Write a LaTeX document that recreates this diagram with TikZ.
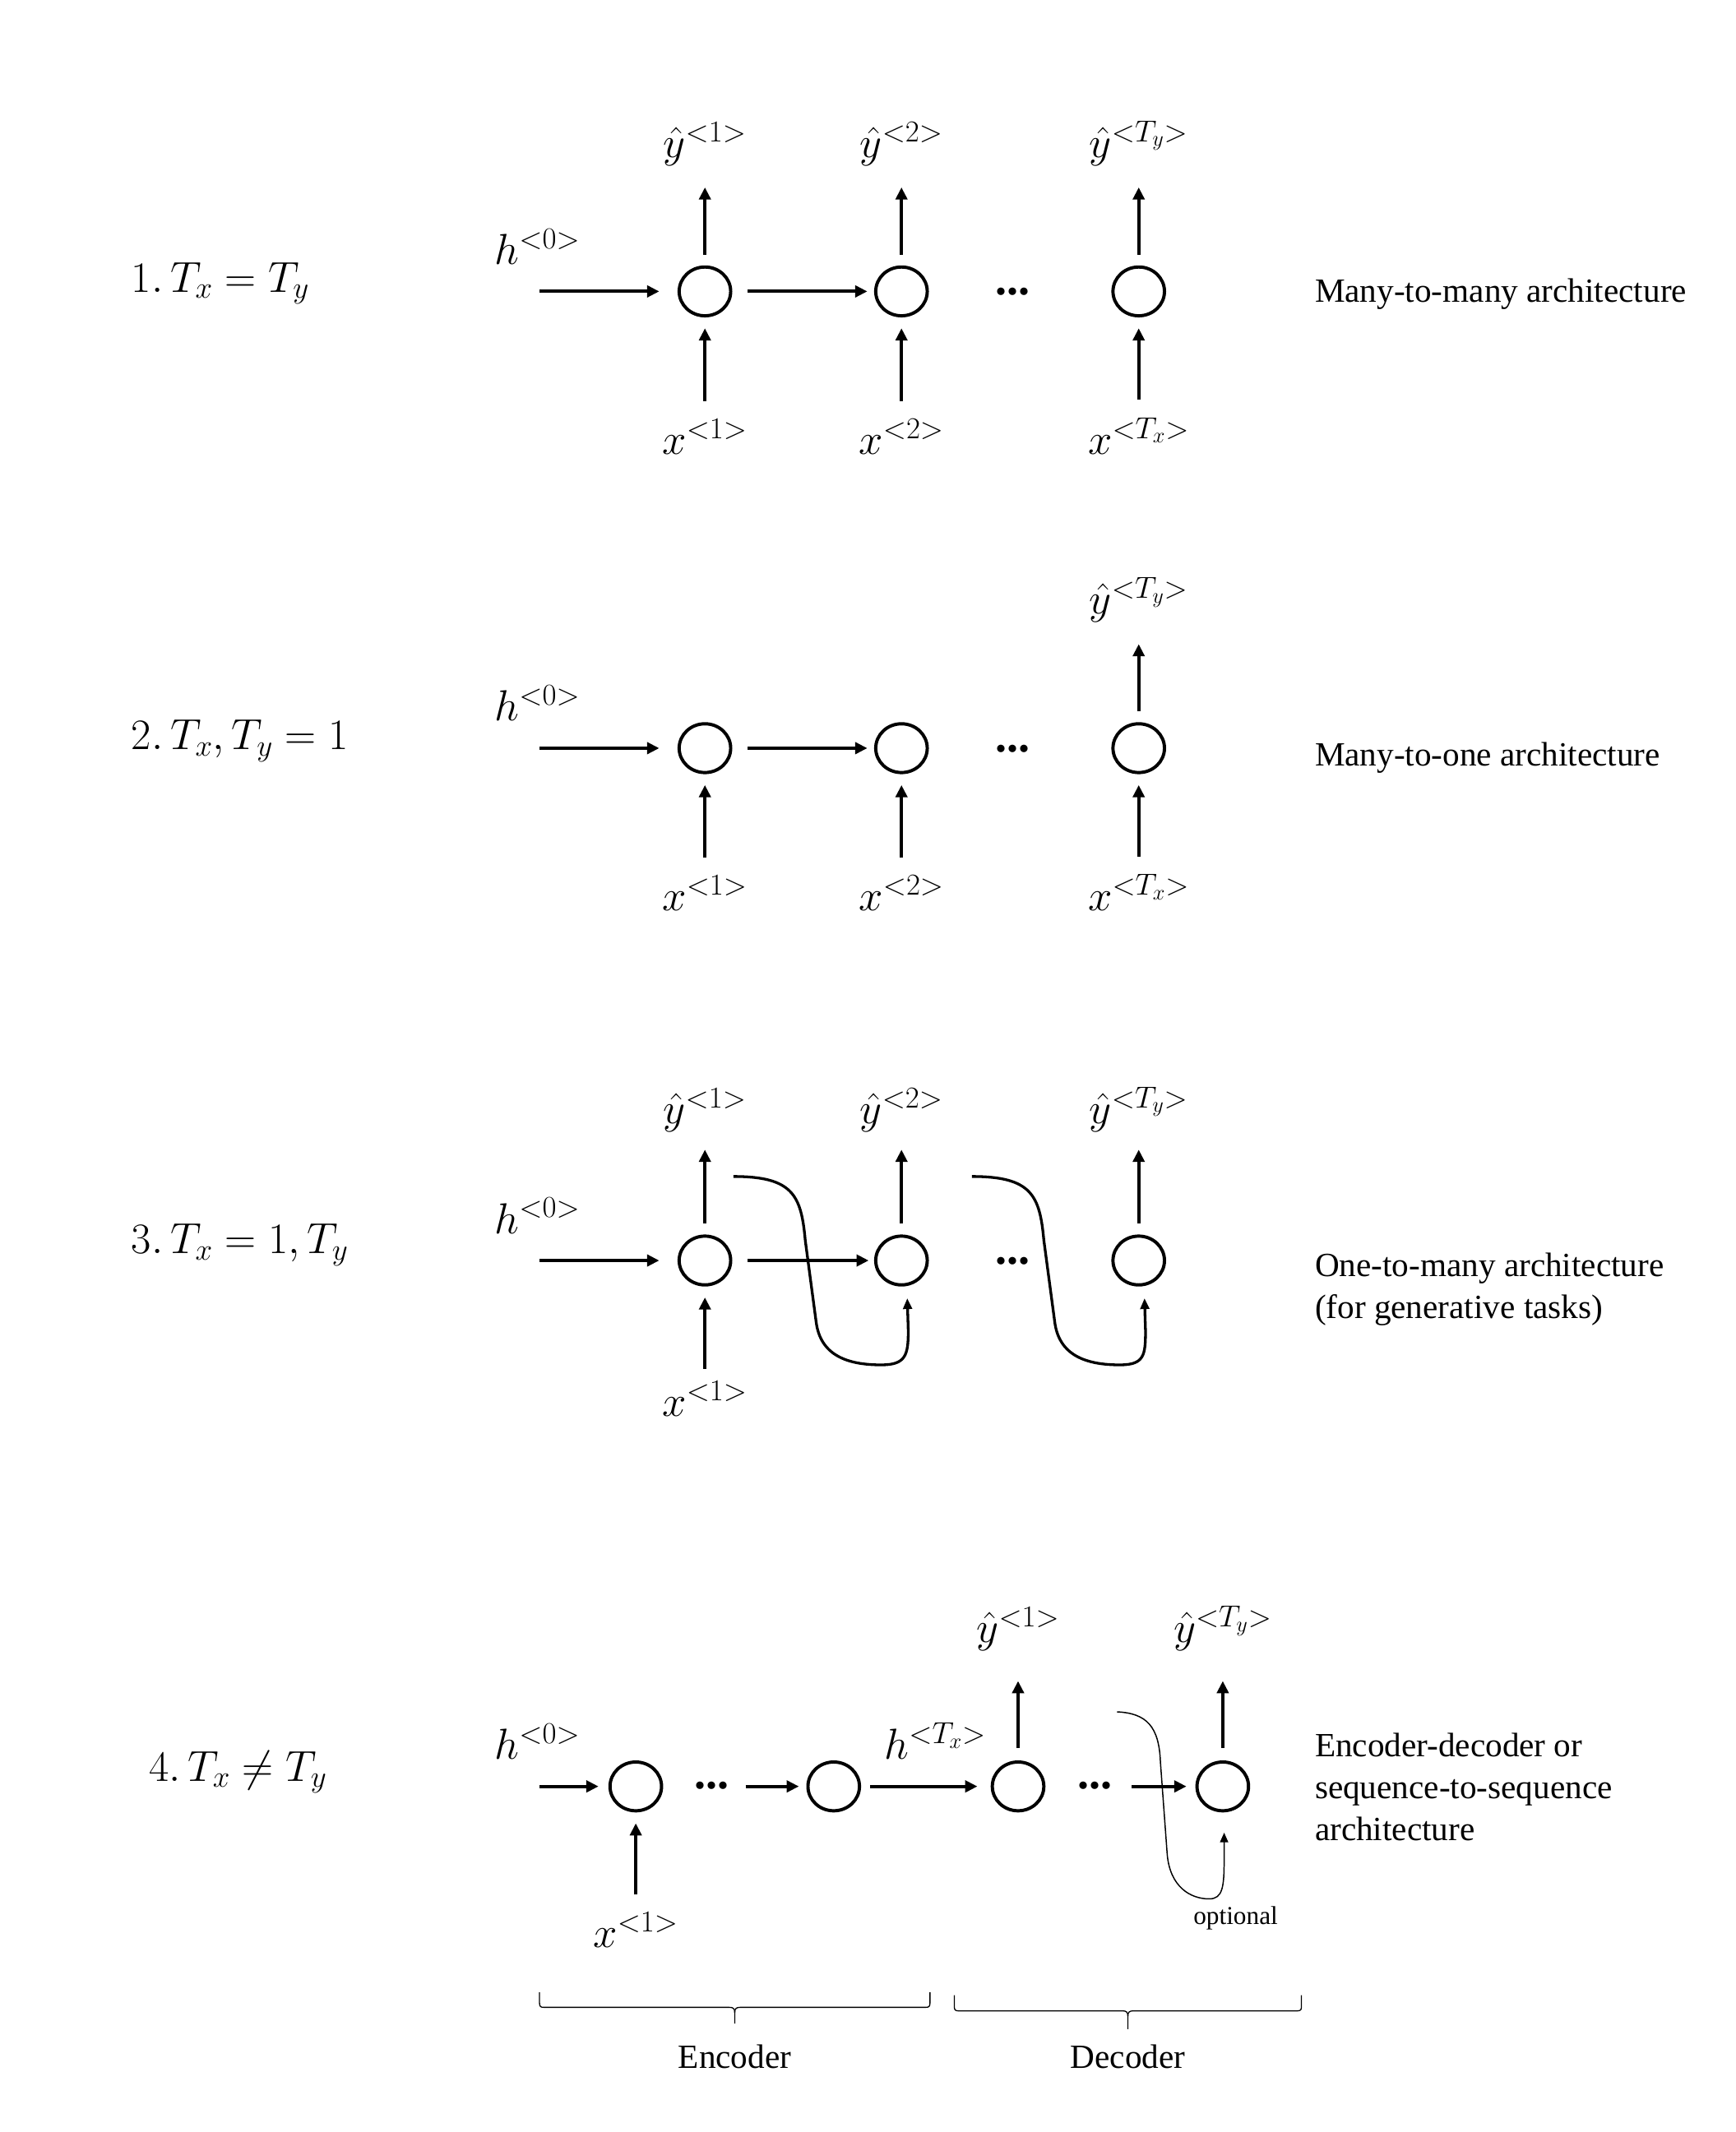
\documentclass[tikz,border=0pt]{standalone}
\usepackage{fix-cm}
\usepackage{amsmath}
\usepackage{fontspec}
\setmainfont{Liberation Serif}
\usetikzlibrary{shapes.geometric}
\usetikzlibrary{arrows.meta}

\tikzset{
  cell/.style={ellipse,draw,line width=2.4pt,minimum width=38pt,minimum height=36pt,inner sep=0pt},
  lab/.style={anchor=base,inner sep=0pt,outer sep=0pt,font=\fontsize{32}{38}\selectfont},
  rowlab/.style={anchor=base west,inner sep=0pt,outer sep=0pt,font=\fontsize{32}{38}\selectfont},
  txt/.style={anchor=base west,align=left,inner sep=0pt,outer sep=0pt,font=\fontsize{25}{31}\selectfont},
  word/.style={anchor=base,inner sep=0pt,outer sep=0pt,font=\fontsize{25}{31}\selectfont},
  note/.style={anchor=base,inner sep=0pt,outer sep=0pt,font=\fontsize{19}{23}\selectfont},
  ell/.style={anchor=base,inner sep=0pt,outer sep=0pt,font=\fontsize{34}{40}\selectfont\bfseries},
  arr/.style={line width=2.4pt,-{Triangle[length=9pt,width=8.5pt]}},
  toy/.style={arr,shorten <=8pt,shorten >=16pt},
  fromx/.style={arr,shorten <=13pt,shorten >=8pt},
  feed/.style={line width=2pt,-{Triangle[length=8pt,width=6.5pt]},shorten >=9pt},
  opt/.style={line width=0.9pt,-{Triangle[length=7pt,width=6pt]},shorten >=15pt},
  grp/.style={line width=0.8pt,line join=round}
}

\begin{document}
\begin{tikzpicture}[x=1pt,y=-1pt]
\fill[white] (0,0) rectangle (1280,1573);
\useasboundingbox (0,0) rectangle (1280,1573);

\node[rowlab] (t1) at (97,215.4) {$1.\,T_x = T_y$};
\node[lab] (h10) at (396.5,195) {$h^{<0>}$};
\coordinate (h1in) at (398,215);
\node[cell] (c11) at (520,215) {};
\node[cell] (c12) at (665,215) {};
\node[cell] (c13) at (840,215) {};
\node[ell] (d1) at (747,217.5) {...};
\node[lab] (y11) at (520,116) {$\hat{y}^{<1>}$};
\node[lab] (y12) at (665,116) {$\hat{y}^{<2>}$};
\node[lab] (y13) at (840,116) {$\hat{y}^{<T_y>}$};
\node[lab] (x11) at (520,335) {$x^{<1>}$};
\node[lab] (x12) at (665,335) {$x^{<2>}$};
\node[lab] (x13) at (840,335) {$x^{<T_x>}$};
\node[txt] (a1) at (970,223) {Many-to-many architecture};
\draw[arr,shorten >=13.5pt] (h1in) -- (c11);
\draw[arr,shorten <=11.5pt,shorten >=5pt] (c11) -- (c12);
\draw[toy] (c11) -- (y11);
\draw[toy] (c12) -- (y12);
\draw[toy] (c13) -- (y13);
\draw[fromx] (x11) -- (c11);
\draw[fromx] (x12) -- (c12);
\draw[fromx] (x13) -- (c13);

\node[rowlab] (t2) at (97,553) {$2.\,T_x, T_y = 1$};
\node[lab] (h20) at (396.5,532) {$h^{<0>}$};
\coordinate (h2in) at (398,552);
\node[cell] (c21) at (520,552) {};
\node[cell] (c22) at (665,552) {};
\node[cell] (c23) at (840,552) {};
\node[ell] (d2) at (747,554.5) {...};
\node[lab] (y23) at (840,453) {$\hat{y}^{<T_y>}$};
\node[lab] (x21) at (520,672) {$x^{<1>}$};
\node[lab] (x22) at (665,672) {$x^{<2>}$};
\node[lab] (x23) at (840,672) {$x^{<T_x>}$};
\node[txt] (a2) at (970,565) {Many-to-one architecture};
\draw[arr,shorten >=13.5pt] (h2in) -- (c21);
\draw[arr,shorten <=11.5pt,shorten >=5pt] (c21) -- (c22);
\draw[toy] (c23) -- (y23);
\draw[fromx] (x21) -- (c21);
\draw[fromx] (x22) -- (c22);
\draw[fromx] (x23) -- (c23);

\node[rowlab] (t3) at (97,925) {$3.\,T_x = 1, T_y$};
\node[lab] (h30) at (396.5,910) {$h^{<0>}$};
\coordinate (h3in) at (398,930);
\node[cell] (c31) at (520,930) {};
\node[cell] (c32) at (665,930) {};
\node[cell] (c33) at (840,930) {};
\node[ell] (d3) at (747,932.5) {...};
\node[lab] (y31) at (520,829) {$\hat{y}^{<1>}$};
\node[lab] (y32) at (665,829) {$\hat{y}^{<2>}$};
\node[lab] (y33) at (840,829) {$\hat{y}^{<T_y>}$};
\node[lab] (x31) at (520,1045) {$x^{<1>}$};
\node[txt] (a3) at (970,973) {One-to-many architecture\\(for generative tasks)};
\coordinate (f31) at (541,868);
\coordinate (f32) at (717,868);
\draw[arr,shorten >=13.5pt] (h3in) -- (c31);
\draw[arr,shorten <=11.5pt,shorten >=4pt] (c31) -- (c32);
\draw[toy,shorten >=13pt] (c31) -- (y31);
\draw[toy,shorten >=13pt] (c32) -- (y32);
\draw[toy,shorten >=13pt] (c33) -- (y33);
\draw[fromx,shorten <=9pt] (x31) -- (c31);
\draw[feed] (f31) .. controls (585,868) and (591,882) .. (594,915) -- (602,975)
  .. controls (605,1000) and (625,1007) .. (650,1007)
  .. controls (668,1007) and (670,1000) .. (670,982) -- (c32.-78);
\draw[feed] (f32) .. controls (761,868) and (767,882) .. (770,915) -- (778,975)
  .. controls (781,1000) and (801,1007) .. (826,1007)
  .. controls (844,1007) and (845,1000) .. (845,982) -- (c33.-78);

\node[rowlab] (t4) at (110,1314) {$4.\,T_x \neq T_y$};
\node[lab] (h40) at (396.5,1298) {$h^{<0>}$};
\coordinate (h4in) at (398,1318);
\node[cell] (c41) at (469,1318) {};
\node[cell] (c42) at (615,1318) {};
\node[cell] (c43) at (751,1318) {};
\node[cell] (c44) at (902,1318) {};
\node[ell] (d41) at (525,1320) {...};
\coordinate (e4in) at (550,1318);
\node[lab] (h4T) at (690,1298) {$h^{<T_x>}$};
\node[ell] (d42) at (807.6,1320) {...};
\coordinate (g4in) at (835,1318);
\node[lab] (y41) at (751,1212) {$\hat{y}^{<1>}$};
\node[lab] (y44) at (902,1212) {$\hat{y}^{<T_y>}$};
\node[lab] (x41) at (469,1437) {$x^{<1>}$};
\node[note] (opt) at (911.5,1420) {optional};
\node[txt] (a4) at (970,1358) {Encoder-decoder or\\sequence-to-sequence\\architecture};
\coordinate (f4) at (824,1263);
\draw[arr,shorten >=7.3pt] (h4in) -- (c41);
\draw[arr,shorten >=5.5pt] (e4in) -- (c42);
\draw[arr,shorten <=6.8pt,shorten >=9.8pt] (c42) -- (c43);
\draw[arr,shorten >=6.6pt] (g4in) -- (c44);
\draw[toy,shorten <=9pt,shorten >=22pt] (c43) -- (y41);
\draw[toy,shorten <=9pt,shorten >=22pt] (c44) -- (y44);
\draw[fromx] (x41) -- (c41);
\draw[opt] (f4) .. controls (846,1264) and (855,1274) .. (856,1300) -- (861,1368)
  .. controls (863,1392) and (878,1401) .. (892,1401)
  .. controls (902,1401) and (903,1392) .. (903,1372) -- (c44.-87);

\coordinate (encl) at (398,1470);
\coordinate (encr) at (686,1470);
\coordinate (enct) at (542,1493);
\coordinate (decl) at (704,1472);
\coordinate (decr) at (960,1472);
\coordinate (dect) at (832,1497);
\draw[grp] (encl) -- (398,1478) .. controls (398,1480.5) and (399,1481) .. (401,1481)
  -- (538,1481) .. controls (541,1481) and (542,1482) .. (542,1485) -- (enct);
\draw[grp] (encr) -- (686,1478) .. controls (686,1480.5) and (685,1481) .. (683,1481)
  -- (546,1481) .. controls (543,1481) and (542,1482) .. (542,1485);
\draw[grp] (decl) -- (704,1481) .. controls (704,1483) and (705,1483.6) .. (707,1483.6)
  -- (828,1483.6) .. controls (831,1483.6) and (832,1484.6) .. (832,1487.6) -- (dect);
\draw[grp] (decr) -- (960,1481) .. controls (960,1483) and (959,1483.6) .. (957,1483.6)
  -- (836,1483.6) .. controls (833,1483.6) and (832,1484.6) .. (832,1487.6);
\node[word] (enc) at (542,1526) {Encoder};
\node[word] (dec) at (832,1526) {Decoder};
\end{tikzpicture}
\end{document}
